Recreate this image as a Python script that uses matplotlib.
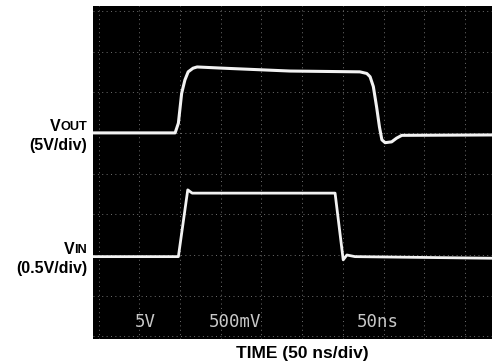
import matplotlib
matplotlib.use("Agg")
import matplotlib.pyplot as plt
from matplotlib import font_manager

# ---------------- data ----------------
# time in ns, voltages in V relative to each trace's baseline
vout_t = [-7, 94, 98, 102, 106, 110, 116, 121, 153, 235, 321, 329.5, 333.5,
          337.5, 341.5, 345, 348, 352, 360, 366, 372.5, 484]
vout_v = [0.0, 0.0, 1.2, 4.85, 6.5, 7.5, 7.95, 8.1, 7.95, 7.6, 7.5, 7.3, 6.9,
          5.7, 3.2, 0.75, -0.85, -1.2, -1.1, -0.65, -0.3, -0.25]

vin_t = [-7, 98, 109.5, 115, 200, 290.5, 300.5, 305, 315, 400, 484]
vin_v = [0.0, 0.0, 0.82, 0.78, 0.78, 0.78, -0.04, 0.02, 0.0, -0.01, -0.02]

time_per_div = 50      # ns/div
vout_per_div = 5       # V/div
vin_per_div = 0.5      # V/div

readout_labels = ["5V", "500mV", "50ns"]
channel_labels = [("V", "OUT", "(5V/div)"), ("V", "IN", "(0.5V/div)")]
xlabel = "TIME (50 ns/div)"

# ---------------- fonts ----------------
names = {f.name for f in font_manager.fontManager.ttflist}
lab_font = "Liberation Sans Narrow" if "Liberation Sans Narrow" in names else "Liberation Sans"

W, H = 492, 362
fig = plt.figure(figsize=(W / 100, H / 100), dpi=100)
fig.patch.set_facecolor("white")

# screen area (pixels): left 93, right 492, top 6, bottom 339
ax = fig.add_axes([93 / W, 1 - 339 / H, (492 - 93) / W, (339 - 6) / H])
ax.set_facecolor("black")
ax.set_xlim(-0.138, 9.666)
ax.set_ylim(-0.064, 8.118)
for s in ax.spines.values():
    s.set_visible(False)
ax.set_xticks([])
ax.set_yticks([])

# graticule
for k in range(0, 10):
    ax.axvline(k, color="#707070", lw=0.7, ls=(0, (1, 3.5)), zorder=1)
for k in range(0, 9):
    ax.axhline(k, color="#707070", lw=0.7, ls=(0, (1, 3.5)), zorder=1)

# traces
vout_x = [t / time_per_div for t in vout_t]
vout_y = [5.0 + v / vout_per_div for v in vout_v]
vin_x = [t / time_per_div for t in vin_t]
vin_y = [1.96 + v / vin_per_div for v in vin_v]
ax.plot(vout_x, vout_y, color="#f2f2f2", lw=2.2, solid_capstyle="round",
        solid_joinstyle="round", zorder=3)
ax.plot(vin_x, vin_y, color="#f2f2f2", lw=2.0, solid_capstyle="round",
        solid_joinstyle="round", zorder=3)

# readout
for lab, xp in zip(readout_labels, [1.14, 3.35, 6.86]):
    ax.text(xp, 0.36, lab, color="#c8c8c8", fontsize=12.5,
            family="DejaVu Sans Mono", ha="center", va="center", zorder=4)

# channel labels (left)
def chan(name, sub, scale, base_px, scale_base_px):
    xr = 87 / W
    t_sub = fig.text(xr, 1 - (base_px + 1.7) / H, sub, fontsize=9.2,
                     family=lab_font, weight="bold", ha="right", va="baseline")
    ax.annotate(name, xy=(0, 0), xycoords=t_sub, xytext=(0, 1.7),
                textcoords="offset pixels", fontsize=11.5, family=lab_font,
                weight="bold", ha="right", va="baseline",
                annotation_clip=False)
    fig.text(xr, 1 - scale_base_px / H, scale, fontsize=11.5,
             family=lab_font, weight="bold", ha="right", va="baseline")

chan(*channel_labels[0], base_px=128.3, scale_base_px=150)
chan(*channel_labels[1], base_px=251.5, scale_base_px=273)

fig.text(302 / W, 1 - 358 / H, xlabel, fontsize=12.5, family=lab_font,
         weight="bold", ha="center", va="baseline")

fig.savefig("out.png", dpi=100, facecolor="white")
